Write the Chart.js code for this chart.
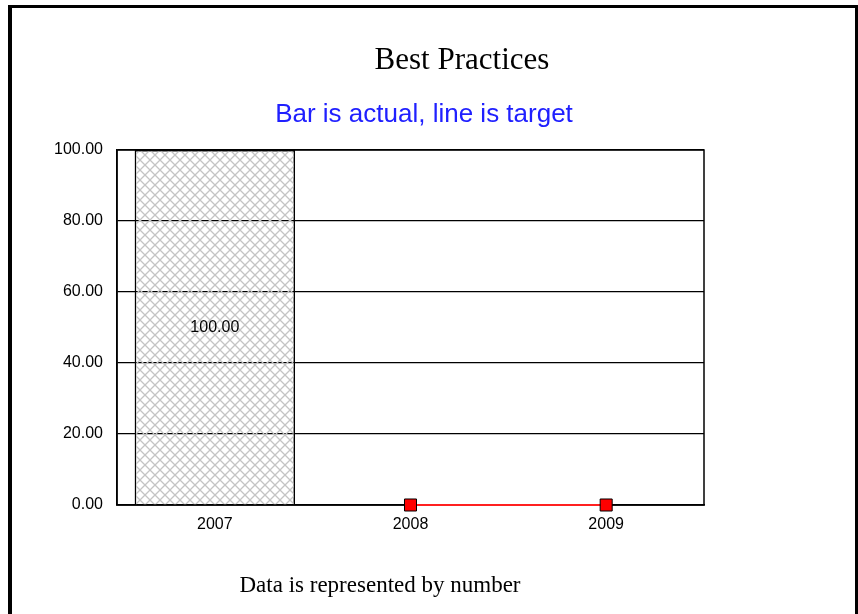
<!DOCTYPE html>
<html>
<head>
<meta charset="utf-8">
<script src="https://cdn.jsdelivr.net/npm/chart.js@4.4.0/dist/chart.umd.min.js"></script>
<style>
  html, body { margin: 0; padding: 0; background: #fff; }
  #wrap { width: 858px; height: 614px; position: relative; }
</style>
</head>
<body>
<div id="wrap"><canvas id="bpChart" width="858" height="614"></canvas></div>
<script>
/* data */
const years = ["2007", "2008", "2009"];
const actual = [100, null, null];
const target = [null, 0, 0];
const yTicks = [0, 20, 40, 60, 80, 100];

const sans = "'Liberation Sans', Arial, sans-serif";

/* crosshatch fill for the bar */
function hatch() {
  const c = document.createElement("canvas");
  c.width = 10; c.height = 10;
  const g = c.getContext("2d");
  g.strokeStyle = "#c4c4c4";
  g.lineWidth = 1.3;
  g.beginPath();
  g.moveTo(0, 0); g.lineTo(10, 10);
  g.moveTo(10, 0); g.lineTo(0, 10);
  g.stroke();
  return g.createPattern(c, "repeat");
}

/* titles, frame, box and value label */
const decor = {
  id: "decor",
  beforeDraw(chart) {
    const ctx = chart.ctx;
    ctx.save();
    ctx.fillStyle = "#000";
    ctx.fillRect(8, 5, 850, 3);
    ctx.fillRect(8, 5, 4, 609);
    ctx.fillRect(855, 5, 3, 609);
    ctx.textAlign = "center";
    ctx.textBaseline = "middle";
    ctx.font = "31px 'Liberation Serif', 'Times New Roman', serif";
    ctx.fillText("Best Practices", 462, 61);
    ctx.fillStyle = "#2020ff";
    ctx.font = "26px " + sans;
    ctx.fillText("Bar is actual, line is target", 424, 115);
    ctx.fillStyle = "#000";
    ctx.font = "23px 'Liberation Serif', 'Times New Roman', serif";
    ctx.fillText("Data is represented by number", 380, 586);
    ctx.restore();
  },
  beforeDatasetsDraw(chart) {
    const ctx = chart.ctx;
    const a = chart.chartArea;
    ctx.save();
    ctx.strokeStyle = "#000";
    ctx.lineWidth = 1.5;
    ctx.strokeRect(a.left, a.top, a.right - a.left, a.bottom - a.top);
    ctx.restore();
  },
  afterDatasetsDraw(chart) {
    const ctx = chart.ctx;
    const bar = chart.getDatasetMeta(1).data[0];
    ctx.save();
    ctx.fillStyle = "#000";
    ctx.font = "16px " + sans;
    ctx.textAlign = "center";
    ctx.textBaseline = "middle";
    ctx.fillText(actual[0].toFixed(2), bar.x, (bar.y + bar.base) / 2);
    ctx.restore();
  }
};

new Chart(document.getElementById("bpChart"), {
  data: {
    labels: years,
    datasets: [{
      type: "line",
      label: "Target",
      data: target,
      borderColor: "#ff2020",
      borderWidth: 2,
      pointStyle: "rect",
      pointRadius: 8.5,
      pointBackgroundColor: "#ff0000",
      pointBorderColor: "#000",
      pointBorderWidth: 1,
      clip: false,
      order: 0
    }, {
      type: "bar",
      label: "Actual",
      data: actual,
      backgroundColor: hatch(),
      borderColor: "#000",
      borderWidth: 1.5,
      categoryPercentage: 1,
      barPercentage: 0.82,
      skipNull: true,
      order: 1
    }]
  },
  options: {
    responsive: false,
    animation: false,
    layout: { padding: { left: 37, right: 154, top: 150, bottom: 79 } },
    plugins: {
      legend: { display: false },
      tooltip: { enabled: false }
    },
    scales: {
      x: {
        grid: { display: false },
        border: { color: "#000", width: 1.5 },
        ticks: { color: "#000", padding: 2, font: { size: 16, family: sans } },
        afterFit(s) { s.height = 30; }
      },
      y: {
        min: 0,
        max: 100,
        afterBuildTicks(s) { s.ticks = yTicks.map(v => ({ value: v })); },
        grid: { color: "#000", lineWidth: 1.2, drawTicks: false },
        border: { color: "#000", width: 1.5 },
        ticks: {
          color: "#000",
          padding: 14,
          font: { size: 16, family: sans },
          callback: v => Number(v).toFixed(2)
        },
        afterFit(s) { s.width = 80; }
      }
    }
  },
  plugins: [decor]
});
</script>
</body>
</html>
